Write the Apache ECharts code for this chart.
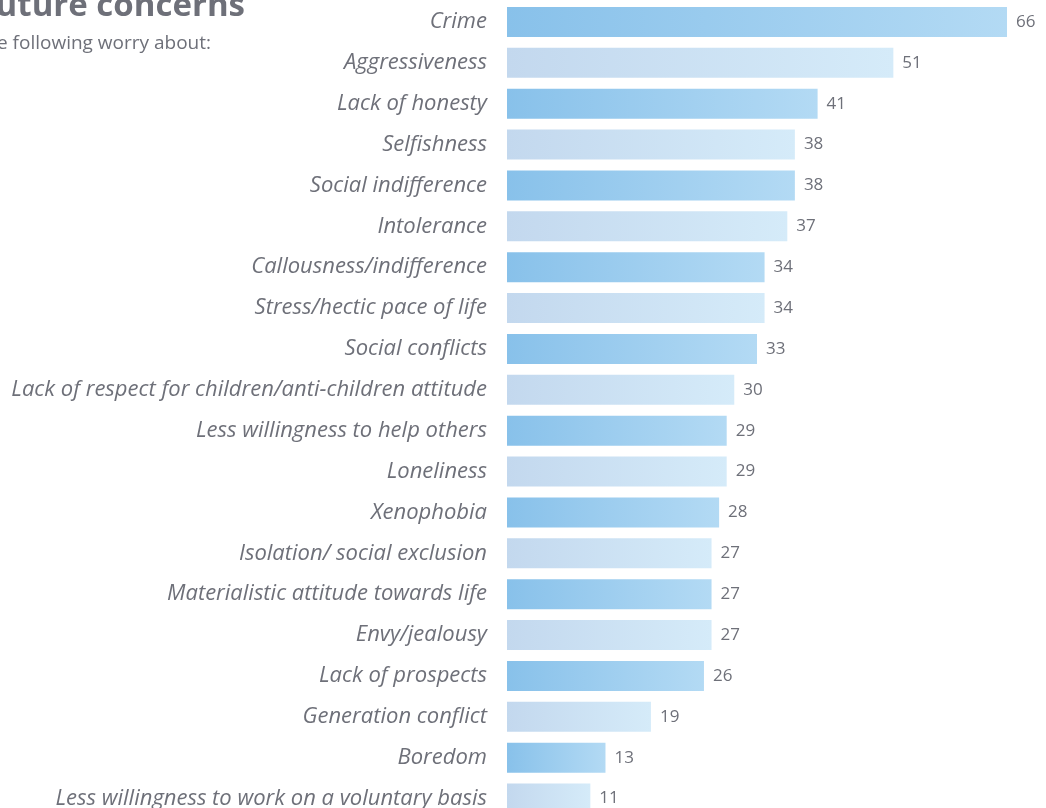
<!DOCTYPE html>
<html>
<head>
<meta charset="utf-8">
<script src="https://cdn.jsdelivr.net/npm/echarts@6/dist/echarts.min.js"></script>
<style>
  html, body { margin: 0; padding: 0; background: #ffffff; overflow: hidden; }
  #chart { width: 1046px; height: 819px; }
</style>
</head>
<body>
<div id="chart"></div>
<script>
// Worries about the future, share of respondents (%)
const categories = [
  'Crime',
  'Aggressiveness',
  'Lack of honesty',
  'Selfishness',
  'Social indifference',
  'Intolerance',
  'Callousness/indifference',
  'Stress/hectic pace of life',
  'Social conflicts',
  'Lack of respect for children/anti-children attitude',
  'Less willingness to help others',
  'Loneliness',
  'Xenophobia',
  'Isolation/ social exclusion',
  'Materialistic attitude towards life',
  'Envy/jealousy',
  'Lack of prospects',
  'Generation conflict',
  'Boredom',
  'Less willingness to work on a voluntary basis'
];
const values = [66, 51, 41, 38, 38, 37, 34, 34, 33, 30, 29, 29, 28, 27, 27, 27, 26, 19, 13, 11];

const titleText = 'Future concerns';
const subtitleText = 'Percentage of young people who have the following worry about:';

const textGrey = '#6e7079';

function grad(c0, c1) {
  return new echarts.graphic.LinearGradient(0, 0, 1, 0, [
    { offset: 0, color: c0 },
    { offset: 1, color: c1 }
  ]);
}
const darkFill = grad('#88c1ea', '#b3daf4');
const lightFill = grad('#c3d8ee', '#d5ebf9');

const chart = echarts.init(document.getElementById('chart'), null, { renderer: 'canvas' });

chart.setOption({
  animation: false,
  backgroundColor: '#ffffff',
  graphic: [
    {
      type: 'text',
      right: 801,
      top: -10,
      style: {
        text: titleText,
        fill: textGrey,
        font: 'bold 33px "Open Sans", sans-serif',
        textAlign: 'right'
      }
    },
    {
      type: 'text',
      right: 835,
      top: 34,
      style: {
        text: subtitleText,
        fill: textGrey,
        font: '19px "Open Sans", sans-serif',
        textAlign: 'right'
      }
    }
  ],
  grid: {
    left: 507,
    top: 1.5,
    right: 39,
    bottom: 0,
    containLabel: false
  },
  xAxis: {
    type: 'value',
    min: 0,
    max: 66,
    show: false
  },
  yAxis: {
    type: 'category',
    data: categories,
    inverse: true,
    axisLine: { show: false },
    axisTick: { show: false },
    splitLine: { show: false },
    axisLabel: {
      margin: 20,
      color: textGrey,
      fontSize: 22,
      fontStyle: 'italic',
      fontFamily: '"Open Sans", sans-serif'
    }
  },
  series: [{
    type: 'bar',
    data: values.map((v, i) => ({
      value: v,
      itemStyle: { color: i % 2 === 0 ? darkFill : lightFill }
    })),
    barWidth: 30,
    label: {
      show: true,
      position: 'right',
      distance: 9,
      color: textGrey,
      fontSize: 17,
      fontFamily: '"Open Sans", sans-serif'
    }
  }]
});
</script>
</body>
</html>
